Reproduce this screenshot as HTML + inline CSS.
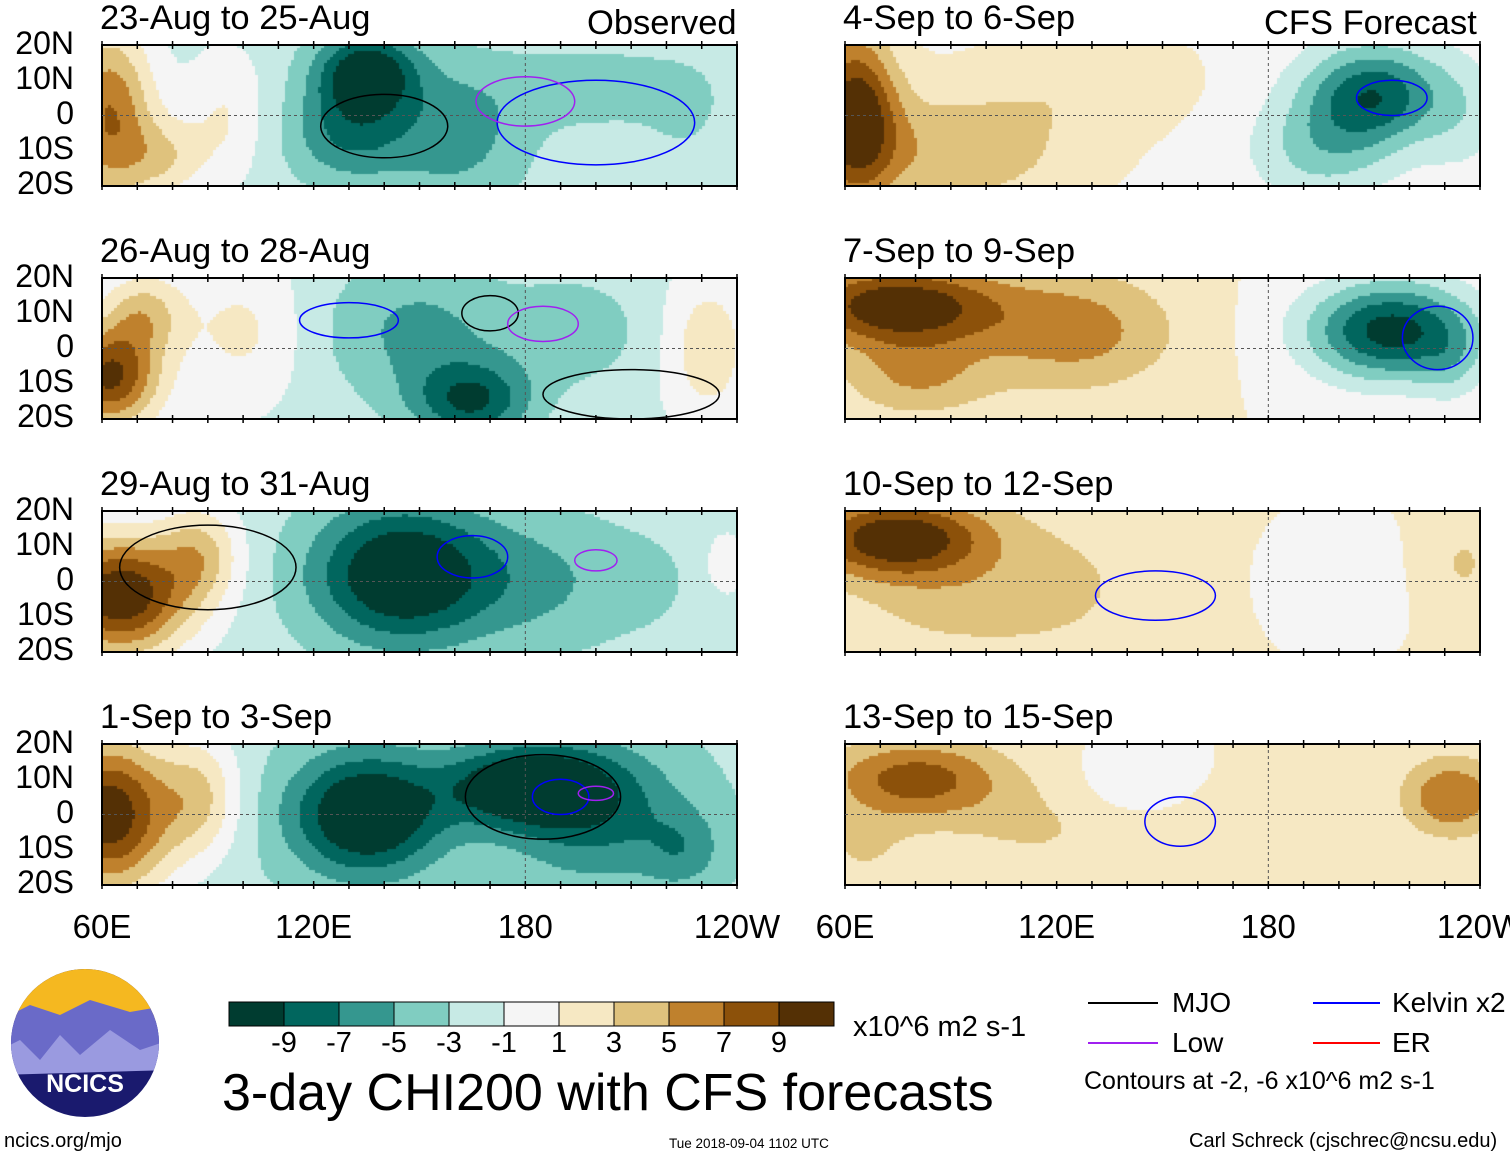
<!DOCTYPE html>
<html><head><meta charset="utf-8">
<style>
body{margin:0;width:1510px;height:1158px;background:#fff;position:relative;overflow:hidden;font-family:"Liberation Sans",sans-serif;}
.t{position:absolute;color:#000;white-space:nowrap;}
canvas{position:absolute;}
</style></head><body>
<svg id="frame" width="1510" height="1158" style="position:absolute;left:0;top:0"></svg>
<script>
const levels=[-9,-7,-5,-3,-1,1,3,5,7,9];
const colors=["#003c30","#01665e","#35978f","#80cdc1","#c7eae5","#f5f5f5","#f6e8c3","#dfc27d","#bf812d","#8c510a","#543005"];
const titles=["23-Aug to 25-Aug","26-Aug to 28-Aug","29-Aug to 31-Aug","1-Sep to 3-Sep","4-Sep to 6-Sep","7-Sep to 9-Sep","10-Sep to 12-Sep","13-Sep to 15-Sep"];
// anomaly blobs per panel: [lon, lat, amplitude, sigmaLon, sigmaLat]
const base=[-2,-1.5,-2,-2.5,0.5,1,1.2,1];
const blobs=[
[[62,0,9,9,18],[78,-12,4,8,8],[95,0,3,8,14],[135,12,-9,10,8],[130,-5,-5,12,10],[160,-5,-4,14,14],[200,8,-2,20,8],[225,0,-1,8,10]],
[[62,-8,11,10,10],[72,10,5,8,8],[100,5,3,12,14],[150,5,-4,20,15],[165,-15,-7,12,8],[195,5,-3,12,10],[232,0,4,8,14]],
[[65,-4,13,14,12],[88,8,5,8,10],[145,2,-10,18,14],[185,0,-3,18,14],[215,0,-1,10,10],[237,5,3,4,6]],
[[62,0,13,13,16],[88,5,5,8,12],[135,0,-10,15,12],[180,8,-9,16,8],[200,0,-5,18,14],[225,-10,-3,8,8]],
[[63,0,10,8,16],[90,-10,4,25,12],[130,10,2,20,10],[210,6,-9,14,10],[195,-10,-4,14,10],[235,0,-2,8,12]],
[[75,12,10,20,8],[80,-8,4,15,8],[125,5,5,20,12],[215,5,-11,17,10],[232,-5,-2,6,8]],
[[75,12,10,18,8],[90,-8,2,20,8],[120,0,2,20,14],[200,0,-1,15,14],[235,5,2,8,10]],
[[80,10,7,18,8],[65,-10,2,10,8],[115,-5,2,20,10],[140,10,-2,8,6],[232,5,6,10,8]]
];
const panelX=[102,845], panelY=[45,278,511,744], PW=635, PH=141;
const svg=document.getElementById('frame');
const NS="http://www.w3.org/2000/svg";
function colorFor(v){let i=0;while(i<levels.length&&v>levels[i])i++;return colors[i];}
function lonX(lon,x0){return x0+(lon-60)/180*PW;}
function latY(lat,y0){return y0+(20-lat)/40*PH;}
for(let p=0;p<8;p++){
  const x0=panelX[p<4?0:1], y0=panelY[p%4];
  const c=document.createElement('canvas');
  c.width=PW;c.height=PH;c.style.left=x0+'px';c.style.top=y0+'px';
  
  
  document.body.insertBefore(c,svg);
  const ctx=c.getContext('2d');
  const s=3;
  for(let yy=0;yy<PH;yy+=s)for(let xx=0;xx<PW;xx+=s){
    const lon=60+(xx+1.5)/PW*180, lat=20-(yy+1.5)/PH*40;
    let v=base[p];
    for(const b of blobs[p]){const dx=(lon-b[0])/b[3],dy=(lat-b[1])/b[4];v+=b[2]*Math.exp(-(dx*dx+dy*dy)/2);}
    ctx.fillStyle=colorFor(v);ctx.fillRect(xx,yy,s,s);
  }
  const r=document.createElementNS(NS,'rect');
  r.setAttribute('x',x0);r.setAttribute('y',y0);r.setAttribute('width',PW);r.setAttribute('height',PH);
  r.setAttribute('fill','none');r.setAttribute('stroke','#000');r.setAttribute('stroke-width','2');
  
  
  svg.appendChild(r);
  const eq=document.createElementNS(NS,'line');
  eq.setAttribute('x1',x0);eq.setAttribute('x2',x0+PW);eq.setAttribute('y1',latY(0,y0));eq.setAttribute('y2',latY(0,y0));
  eq.setAttribute('stroke','#555');eq.setAttribute('stroke-dasharray','3,3');
  
  
  svg.appendChild(eq);
  const dl=document.createElementNS(NS,'line');
  dl.setAttribute('x1',lonX(180,x0));dl.setAttribute('x2',lonX(180,x0));dl.setAttribute('y1',y0);dl.setAttribute('y2',y0+PH);
  dl.setAttribute('stroke','#555');dl.setAttribute('stroke-dasharray','3,3');
  
  
  svg.appendChild(dl);
  for(let lon=60;lon<=240;lon+=10){for(const ty of [y0,y0+PH]){
    const t=document.createElementNS(NS,'line');
    t.setAttribute('x1',lonX(lon,x0));t.setAttribute('x2',lonX(lon,x0));t.setAttribute('y1',ty-4);t.setAttribute('y2',ty+4);
    t.setAttribute('stroke','#000');t.setAttribute('stroke-width','1.5');
    
    
    svg.appendChild(t);}}
  const tt=document.createElement('div');tt.className='t';tt.textContent=titles[p];
  tt.style.left=(x0-2)+'px';tt.style.top=(y0-46)+'px';tt.style.fontSize='34.5px';
  
  
  document.body.appendChild(tt);
  if(p<4){
    const lats=["20N","10N","0","10S","20S"];
    lats.forEach((l,i)=>{const d=document.createElement('div');d.className='t';d.textContent=l;
      d.style.right=(1510-74)+'px';d.style.top=(y0-20+i*35)+'px';d.style.fontSize='32px';
      
      
      document.body.appendChild(d);});
  }
}
const contours=[
[0,'#00f',200,-2,28,12],[0,'#a020f0',180,4,14,7],[0,'#000',140,-3,18,9],
[1,'#000',210,-13,25,7],[1,'#00f',130,8,14,5],[1,'#000',170,10,8,5],[1,'#a020f0',185,7,10,5],
[2,'#00f',165,7,10,6],[2,'#a020f0',200,6,6,3],[2,'#000',90,4,25,12],
[3,'#000',185,5,22,12],[3,'#00f',190,5,8,5],[3,'#a020f0',200,6,5,2],
[4,'#00f',215,5,10,5],[5,'#00f',228,3,10,9],[6,'#00f',148,-4,17,7],[7,'#00f',155,-2,10,7]
];
contours.forEach(c=>{const x0=panelX[c[0]<4?0:1],y0=panelY[c[0]%4];
  const e=document.createElementNS(NS,'ellipse');
  e.setAttribute('cx',lonX(c[2],x0));e.setAttribute('cy',latY(c[3],y0));e.setAttribute('rx',c[4]/180*PW);e.setAttribute('ry',c[5]/40*PH);
  e.setAttribute('fill','none');e.setAttribute('stroke',c[1]);e.setAttribute('stroke-width','1.5');
  
  
  svg.appendChild(e);});
const xl=["60E","120E","180","120W"];
[0,1].forEach(k=>xl.forEach((l,i)=>{const d=document.createElement('div');d.className='t';d.textContent=l;
  d.style.fontSize='33px';d.style.top='908px';d.style.left=(panelX[k]+i*PW/3)+'px';d.style.transform='translateX(-50%)';
  
  
  document.body.appendChild(d);}));
colors.forEach((c,i)=>{const r=document.createElementNS(NS,'rect');
  r.setAttribute('x',229+i*55);r.setAttribute('y',1002);r.setAttribute('width',55);r.setAttribute('height',24);
  r.setAttribute('fill',c);r.setAttribute('stroke','#000');
  
  
  svg.appendChild(r);});
levels.forEach((l,i)=>{const d=document.createElement('div');d.className='t';d.textContent=l;
  d.style.fontSize='29px';d.style.top='1027px';d.style.left=(284+i*55)+'px';d.style.transform='translateX(-50%)';
  
  
  document.body.appendChild(d);});
</script>
<div class="t" style="left:587px;top:4px;font-size:34.5px">Observed</div>
<div class="t" style="left:1264px;top:4px;font-size:34.5px">CFS Forecast</div>
<div class="t" style="left:853px;top:1011px;font-size:29px">x10^6 m2 s-1</div>
<div class="t" style="left:222px;top:1063px;font-size:52px">3-day CHI200 with CFS forecasts</div>
<svg width="1510" height="1158" style="position:absolute;left:0;top:0">
<line x1="1088" y1="1003" x2="1158" y2="1003" stroke="#000" stroke-width="2"/>
<line x1="1313" y1="1003" x2="1380" y2="1003" stroke="#00f" stroke-width="2"/>
<line x1="1088" y1="1043" x2="1158" y2="1043" stroke="#a020f0" stroke-width="2"/>
<line x1="1313" y1="1043" x2="1380" y2="1043" stroke="#f00" stroke-width="2"/>
<defs><clipPath id="cl"><circle cx="85" cy="1043" r="74"/></clipPath></defs>
<g clip-path="url(#cl)">
<rect x="0" y="960" width="170" height="170" fill="#1a1a6e"/>
<rect x="0" y="960" width="170" height="60" fill="#f5b820"/>
<path d="M0 1020 L30 1005 L60 1015 L90 1000 L130 1012 L170 1005 L170 1060 L0 1065Z" fill="#6a6ac8"/>
<path d="M0 1050 L20 1040 L40 1060 L60 1035 L80 1055 L110 1030 L140 1050 L170 1040 L170 1070 L0 1075Z" fill="#9a9ae0"/>
</g>
<text x="85" y="1092" font-size="25" font-weight="bold" fill="#fff" text-anchor="middle" font-family="Liberation Sans">NCICS</text>
</svg>
<div class="t" style="left:1172px;top:987px;font-size:28px">MJO</div>
<div class="t" style="left:1392px;top:987px;font-size:28px">Kelvin x2</div>
<div class="t" style="left:1172px;top:1027px;font-size:28px">Low</div>
<div class="t" style="left:1392px;top:1027px;font-size:28px">ER</div>
<div class="t" style="left:1084px;top:1067px;font-size:25px">Contours at -2, -6 x10^6 m2 s-1</div>
<div class="t" style="left:4px;top:1130px;font-size:20px">ncics.org/mjo</div>
<div class="t" style="left:669px;top:1136px;font-size:13.5px">Tue 2018-09-04 1102 UTC</div>
<div class="t" style="left:1189px;top:1130px;font-size:20px">Carl Schreck (cjschrec@ncsu.edu)</div>
</body></html>
